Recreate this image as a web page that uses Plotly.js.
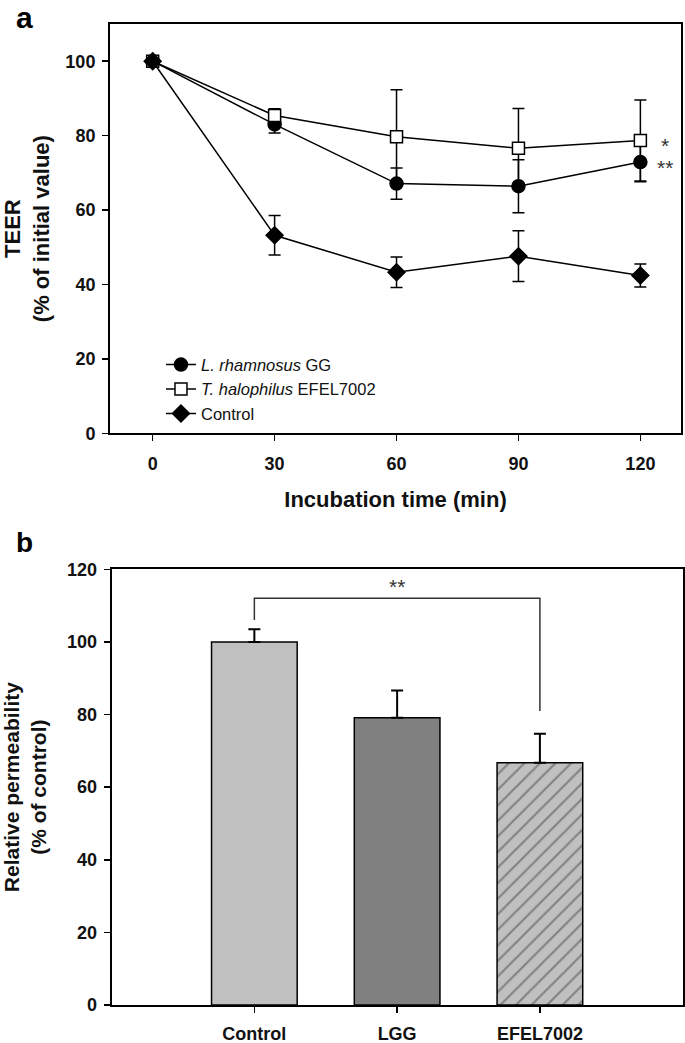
<!DOCTYPE html>
<html>
<head>
<meta charset="utf-8">
<script src="https://cdn.plot.ly/plotly-3.0.1.min.js"></script>
<style>html,body{margin:0;padding:0;background:#fff;}#chart{width:685px;height:1043px;}</style>
</head>
<body>
<div id="chart"></div>
<script>
// ---- Panel a data (TEER, % of initial value) ----
var timeMin = [0, 30, 60, 90, 120];
var lggTEER = [100, 83.0, 67.1, 66.4, 72.9];
var lggErr = [0, 2.3, 4.2, 7.1, 5.3];
var efelTEER = [100, 85.4, 79.7, 76.6, 78.7];
var efelErr = [0, 1.8, 12.6, 10.7, 10.9];
var ctrlTEER = [100, 53.2, 43.3, 47.6, 42.4];
var ctrlErr = [0, 5.3, 4.1, 6.8, 3.1];
var seriesNames = ['<i>L. rhamnosus</i> GG', '<i>T. halophilus</i> EFEL7002', 'Control'];
var sigA = ['**', '*'];

// ---- Panel b data (relative permeability, % of control) ----
var groups = ['Control', 'LGG', 'EFEL7002'];
var permeability = [100, 79.1, 66.7];
var permErr = [3.5, 7.5, 8.0];
var bracketX = [0, 0, 2, 2];
var bracketY = [106, 112, 112, 81];
var sigB = '**';

var FONT = 'Liberation Sans, Arial, sans-serif';
var tickFont = {family: FONT, size: 18, color: '#111', weight: 'bold'};
var titleFontA = {family: FONT, size: 22, color: '#111', weight: 'bold'};
var titleFontB = {family: FONT, size: 21, color: '#111', weight: 'bold'};

function lineTrace(y, err, name, sym, fill, size) {
  return {
    type: 'scatter', mode: 'lines+markers', x: timeMin, y: y, name: name,
    xaxis: 'x', yaxis: 'y',
    line: {color: '#000', width: 1.5},
    marker: {symbol: sym, size: size, color: fill, line: {color: '#000', width: 1.5}},
    error_y: {type: 'data', array: err, visible: true, color: '#000', thickness: 1.5, width: 6}
  };
}

var traces = [
  lineTrace(lggTEER, lggErr, seriesNames[0], 'circle', '#000', 13),
  lineTrace(efelTEER, efelErr, seriesNames[1], 'square', '#fff', 12),
  lineTrace(ctrlTEER, ctrlErr, seriesNames[2], 'diamond', '#000', 13),
  {
    type: 'bar', x: [0, 1, 2], y: permeability, xaxis: 'x2', yaxis: 'y2', width: 0.6,
    showlegend: false,
    marker: {
      color: ['#c0c0c0', '#808080', '#c0c0c0'],
      line: {color: '#000', width: 1.5},
      pattern: {shape: ['', '', '/'], fillmode: 'overlay', fgcolor: '#000', size: 11, solidity: 0.2}
    },
    error_y: {type: 'data', symmetric: false, array: permErr, arrayminus: [0, 0, 0], color: '#000', thickness: 2, width: 6}
  },
  {
    type: 'scatter', mode: 'lines', x: bracketX, y: bracketY, xaxis: 'x2', yaxis: 'y2',
    showlegend: false, hoverinfo: 'skip', line: {color: '#333', width: 1.5}
  }
];

var axisCommon = {
  showline: true, linecolor: '#000', linewidth: 2, mirror: true,
  ticks: 'outside', ticklen: 6, tickwidth: 1.5, tickcolor: '#000',
  showgrid: false, zeroline: false, tickfont: tickFont, fixedrange: true
};

var layout = {
  width: 685, height: 1043,
  margin: {l: 0, r: 0, t: 0, b: 0},
  paper_bgcolor: '#fff', plot_bgcolor: '#fff',
  showlegend: true,
  legend: {
    x: 0.235, xanchor: 'left', y: 0.667, yanchor: 'top',
    bgcolor: 'rgba(0,0,0,0)', font: {family: FONT, size: 16.5, color: '#111'},
    tracegroupgap: 0
  },
  xaxis: Object.assign({}, axisCommon, {
    domain: [0.1606, 0.9942], range: [-10.5, 130], anchor: 'y',
    tickvals: timeMin, ticktext: timeMin.map(String), ticklabelstandoff: 7,
    title: {text: 'Incubation time (min)', font: titleFontA, standoff: 19}
  }),
  yaxis: Object.assign({}, axisCommon, {
    domain: [0.5846, 0.9770], range: [0, 110], anchor: 'x',
    tickvals: [0, 20, 40, 60, 80, 100], ticklabelstandoff: 3,
    title: {text: 'TEER<br>(% of initial value)', font: titleFontA, standoff: 19}
  }),
  xaxis2: Object.assign({}, axisCommon, {
    domain: [0.1629, 0.9966], range: [-1, 3], anchor: 'y2',
    tickvals: [0, 1, 2], ticktext: groups, ticklabelstandoff: 5
  }),
  yaxis2: Object.assign({}, axisCommon, {
    domain: [0.0364, 0.4542], range: [0, 120], anchor: 'x2',
    tickvals: [0, 20, 40, 60, 80, 100, 120], ticklabelstandoff: 3,
    title: {text: 'Relative permeability<br>(% of control)', font: titleFontB, standoff: 16}
  }),
  annotations: [
    {xref: 'x', yref: 'y', x: timeMin[4], y: lggTEER[4], text: sigA[0], showarrow: false,
     xshift: 25, yshift: -5, font: {family: FONT, size: 21, color: '#333'}},
    {xref: 'x', yref: 'y', x: timeMin[4], y: efelTEER[4], text: sigA[1], showarrow: false,
     xshift: 25, yshift: -5, font: {family: FONT, size: 21, color: '#333'}},
    {xref: 'x2', yref: 'y2', x: 1, y: 116.3, text: sigB, showarrow: false, yshift: -4,
     font: {family: FONT, size: 21, color: '#333'}},
    {xref: 'paper', yref: 'paper', x: 24 / 685, y: 1, xanchor: 'center', yanchor: 'top',
     text: 'a', showarrow: false, borderpad: 0,
     font: {family: FONT, size: 30, color: '#000', weight: 'bold'}},
    {xref: 'paper', yref: 'paper', x: 24 / 685, y: 1 - 542 / 1043, xanchor: 'center', yanchor: 'middle',
     text: 'b', showarrow: false, font: {family: FONT, size: 28, color: '#000', weight: 'bold'}}
  ]
};

Plotly.newPlot('chart', traces, layout, {staticPlot: true, displayModeBar: false});
</script>
</body>
</html>
